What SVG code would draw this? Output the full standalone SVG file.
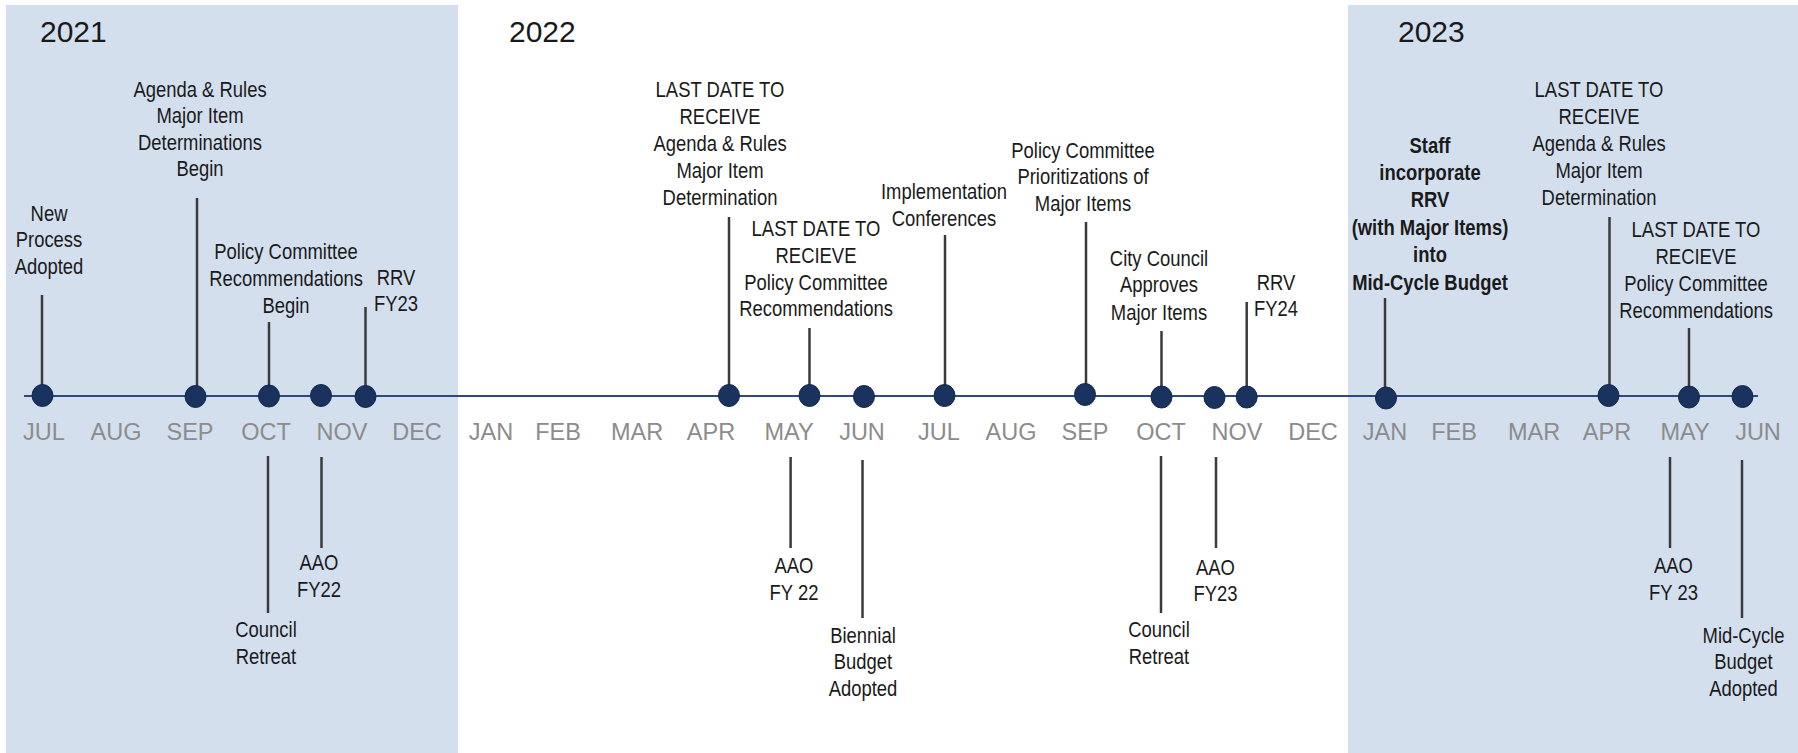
<svg xmlns="http://www.w3.org/2000/svg" width="1798" height="753" viewBox="0 0 1798 753">
<style>
.panel{fill:#D4DFEE}
.year{font-family:"Liberation Sans",Arial,sans-serif;font-size:30px;fill:#1a1a1a}
.month{font-family:"Liberation Sans",Arial,sans-serif;font-size:23.5px;fill:#8C8C8C;text-anchor:middle}
.ev{font-family:"Liberation Sans",Arial,sans-serif;font-size:22.5px;fill:#1a1a1a;text-anchor:middle}
.b{font-weight:bold}
.stem{stroke:#3a3a3a;stroke-width:2.5;fill:none}
.axis{stroke:#2E4A7D;stroke-width:2;fill:none}
.dot{fill:#19325E;stroke:#122850;stroke-width:1}
</style>
<rect width="1798" height="753" fill="#ffffff"/>
<rect class="panel" x="6" y="5" width="452" height="748"/>
<rect class="panel" x="1348" y="5" width="450" height="748"/>

<g id="years">
<text class="year" x="40" y="42">2021</text>
<text class="year" x="509" y="42">2022</text>
<text class="year" x="1398" y="42">2023</text>
</g>

<g id="months">
<text class="month" x="44" y="440">JUL</text>
<text class="month" x="116" y="440">AUG</text>
<text class="month" x="190" y="440">SEP</text>
<text class="month" x="266" y="440">OCT</text>
<text class="month" x="342" y="440">NOV</text>
<text class="month" x="417" y="440">DEC</text>
<text class="month" x="491" y="440">JAN</text>
<text class="month" x="558" y="440">FEB</text>
<text class="month" x="637" y="440">MAR</text>
<text class="month" x="711" y="440">APR</text>
<text class="month" x="789" y="440">MAY</text>
<text class="month" x="862" y="440">JUN</text>
<text class="month" x="939" y="440">JUL</text>
<text class="month" x="1011" y="440">AUG</text>
<text class="month" x="1085" y="440">SEP</text>
<text class="month" x="1161" y="440">OCT</text>
<text class="month" x="1237" y="440">NOV</text>
<text class="month" x="1313" y="440">DEC</text>
<text class="month" x="1385" y="440">JAN</text>
<text class="month" x="1454" y="440">FEB</text>
<text class="month" x="1534" y="440">MAR</text>
<text class="month" x="1607" y="440">APR</text>
<text class="month" x="1685" y="440">MAY</text>
<text class="month" x="1758" y="440">JUN</text>
</g>

<g id="connectors">
<line class="axis" x1="24" y1="396" x2="1758" y2="396"/>
<line class="stem" x1="42" y1="295" x2="42" y2="396"/>
<line class="stem" x1="197" y1="198" x2="197" y2="396"/>
<line class="stem" x1="269" y1="322" x2="269" y2="396"/>
<line class="stem" x1="365.5" y1="307" x2="365.5" y2="396"/>
<line class="stem" x1="268" y1="456" x2="268" y2="613"/>
<line class="stem" x1="321.5" y1="457" x2="321.5" y2="548"/>
<line class="stem" x1="729" y1="217" x2="729" y2="396"/>
<line class="stem" x1="809.5" y1="328" x2="809.5" y2="396"/>
<line class="stem" x1="945" y1="235" x2="945" y2="396"/>
<line class="stem" x1="1086" y1="222" x2="1086" y2="396"/>
<line class="stem" x1="1161.5" y1="331" x2="1161.5" y2="396"/>
<line class="stem" x1="1246.7" y1="302" x2="1246.7" y2="396"/>
<line class="stem" x1="790.6" y1="457" x2="790.6" y2="548"/>
<line class="stem" x1="862.5" y1="460" x2="862.5" y2="618"/>
<line class="stem" x1="1161" y1="456" x2="1161" y2="613"/>
<line class="stem" x1="1216" y1="457" x2="1216" y2="548"/>
<line class="stem" x1="1385" y1="298" x2="1385" y2="396"/>
<line class="stem" x1="1609.5" y1="217" x2="1609.5" y2="396"/>
<line class="stem" x1="1689" y1="328" x2="1689" y2="396"/>
<line class="stem" x1="1670" y1="457" x2="1670" y2="548"/>
<line class="stem" x1="1742" y1="460" x2="1742" y2="618"/>
</g>

<g id="dots">
<ellipse class="dot" cx="42.5" cy="395.5" rx="10.5" ry="11"/>
<ellipse class="dot" cx="195.5" cy="396.5" rx="10.5" ry="11"/>
<ellipse class="dot" cx="269" cy="396" rx="10.5" ry="11"/>
<ellipse class="dot" cx="321" cy="395.5" rx="10.5" ry="11"/>
<ellipse class="dot" cx="365.5" cy="396.5" rx="10.5" ry="11"/>
<ellipse class="dot" cx="729" cy="395.5" rx="10.5" ry="11"/>
<ellipse class="dot" cx="809.5" cy="395.5" rx="10.5" ry="11"/>
<ellipse class="dot" cx="864" cy="396.5" rx="10.5" ry="11"/>
<ellipse class="dot" cx="944.5" cy="395.5" rx="10.5" ry="11"/>
<ellipse class="dot" cx="1085" cy="394.5" rx="10.5" ry="11"/>
<ellipse class="dot" cx="1161.5" cy="397" rx="10.5" ry="11"/>
<ellipse class="dot" cx="1214.5" cy="397.5" rx="10.5" ry="11"/>
<ellipse class="dot" cx="1246.7" cy="397" rx="10.5" ry="11"/>
<ellipse class="dot" cx="1386" cy="398" rx="10.5" ry="11"/>
<ellipse class="dot" cx="1608.5" cy="395.5" rx="10.5" ry="11"/>
<ellipse class="dot" cx="1689" cy="397" rx="10.5" ry="11"/>
<ellipse class="dot" cx="1742.5" cy="396.5" rx="10.5" ry="11"/>
</g>

<g id="ev-new-process" transform="translate(49 0) scale(0.82 1)">
<text class="ev" x="0" y="221">New</text>
<text class="ev" x="0" y="247.5">Process</text>
<text class="ev" x="0" y="274">Adopted</text>
</g>
<g id="ev-agenda-begin" transform="translate(200 0) scale(0.82 1)">
<text class="ev" x="0" y="97">Agenda &amp; Rules</text>
<text class="ev" x="0" y="123.5">Major Item</text>
<text class="ev" x="0" y="150">Determinations</text>
<text class="ev" x="0" y="176.5">Begin</text>
</g>
<g id="ev-policy-begin" transform="translate(286 0) scale(0.82 1)">
<text class="ev" x="0" y="259.5">Policy Committee</text>
<text class="ev" x="0" y="286">Recommendations</text>
<text class="ev" x="0" y="313">Begin</text>
</g>
<g id="ev-rrv-fy23" transform="translate(396 0) scale(0.82 1)">
<text class="ev" x="0" y="285">RRV</text>
<text class="ev" x="0" y="311.5">FY23</text>
</g>
<g id="ev-council-retreat-2021" transform="translate(266 0) scale(0.82 1)">
<text class="ev" x="0" y="637">Council</text>
<text class="ev" x="0" y="664">Retreat</text>
</g>
<g id="ev-aao-fy22" transform="translate(319 0) scale(0.82 1)">
<text class="ev" x="0" y="570">AAO</text>
<text class="ev" x="0" y="597">FY22</text>
</g>
<g id="ev-last-agenda-2022" transform="translate(720 0) scale(0.82 1)">
<text class="ev" x="0" y="97">LAST DATE TO</text>
<text class="ev" x="0" y="124">RECEIVE</text>
<text class="ev" x="0" y="151">Agenda &amp; Rules</text>
<text class="ev" x="0" y="178">Major Item</text>
<text class="ev" x="0" y="205.5">Determination</text>
</g>
<g id="ev-last-policy-2022" transform="translate(816 0) scale(0.82 1)">
<text class="ev" x="0" y="236">LAST DATE TO</text>
<text class="ev" x="0" y="263">RECIEVE</text>
<text class="ev" x="0" y="290">Policy Committee</text>
<text class="ev" x="0" y="316.5">Recommendations</text>
</g>
<g id="ev-implementation" transform="translate(944 0) scale(0.82 1)">
<text class="ev" x="0" y="199.5">Implementation</text>
<text class="ev" x="0" y="226">Conferences</text>
</g>
<g id="ev-prioritizations" transform="translate(1083 0) scale(0.82 1)">
<text class="ev" x="0" y="158">Policy Committee</text>
<text class="ev" x="0" y="184.5">Prioritizations of</text>
<text class="ev" x="0" y="211.5">Major Items</text>
</g>
<g id="ev-city-council" transform="translate(1159 0) scale(0.82 1)">
<text class="ev" x="0" y="266">City Council</text>
<text class="ev" x="0" y="292.5">Approves</text>
<text class="ev" x="0" y="320">Major Items</text>
</g>
<g id="ev-rrv-fy24" transform="translate(1276 0) scale(0.82 1)">
<text class="ev" x="0" y="290">RRV</text>
<text class="ev" x="0" y="316">FY24</text>
</g>
<g id="ev-aao-fy22-b" transform="translate(794 0) scale(0.82 1)">
<text class="ev" x="0" y="573">AAO</text>
<text class="ev" x="0" y="600">FY 22</text>
</g>
<g id="ev-biennial" transform="translate(863 0) scale(0.82 1)">
<text class="ev" x="0" y="643">Biennial</text>
<text class="ev" x="0" y="669.5">Budget</text>
<text class="ev" x="0" y="696">Adopted</text>
</g>
<g id="ev-council-retreat-2022" transform="translate(1159 0) scale(0.82 1)">
<text class="ev" x="0" y="637">Council</text>
<text class="ev" x="0" y="664">Retreat</text>
</g>
<g id="ev-aao-fy23" transform="translate(1215.5 0) scale(0.82 1)">
<text class="ev" x="0" y="575">AAO</text>
<text class="ev" x="0" y="601.5">FY23</text>
</g>
<g id="ev-staff" transform="translate(1430 0) scale(0.82 1)">
<text class="ev b" x="0" y="153.5">Staff</text>
<text class="ev b" x="0" y="180">incorporate</text>
<text class="ev b" x="0" y="207.5">RRV</text>
<text class="ev b" x="0" y="235">(with Major Items)</text>
<text class="ev b" x="0" y="262.5">into</text>
<text class="ev b" x="0" y="290">Mid-Cycle Budget</text>
</g>
<g id="ev-last-agenda-2023" transform="translate(1599 0) scale(0.82 1)">
<text class="ev" x="0" y="97">LAST DATE TO</text>
<text class="ev" x="0" y="124">RECEIVE</text>
<text class="ev" x="0" y="151">Agenda &amp; Rules</text>
<text class="ev" x="0" y="178">Major Item</text>
<text class="ev" x="0" y="205.5">Determination</text>
</g>
<g id="ev-last-policy-2023" transform="translate(1696 0) scale(0.82 1)">
<text class="ev" x="0" y="237.5">LAST DATE TO</text>
<text class="ev" x="0" y="264.5">RECIEVE</text>
<text class="ev" x="0" y="291">Policy Committee</text>
<text class="ev" x="0" y="318">Recommendations</text>
</g>
<g id="ev-aao-fy23-b" transform="translate(1673.5 0) scale(0.82 1)">
<text class="ev" x="0" y="573">AAO</text>
<text class="ev" x="0" y="600">FY 23</text>
</g>
<g id="ev-midcycle" transform="translate(1743.5 0) scale(0.82 1)">
<text class="ev" x="0" y="643">Mid-Cycle</text>
<text class="ev" x="0" y="669.5">Budget</text>
<text class="ev" x="0" y="696">Adopted</text>
</g>
</svg>
